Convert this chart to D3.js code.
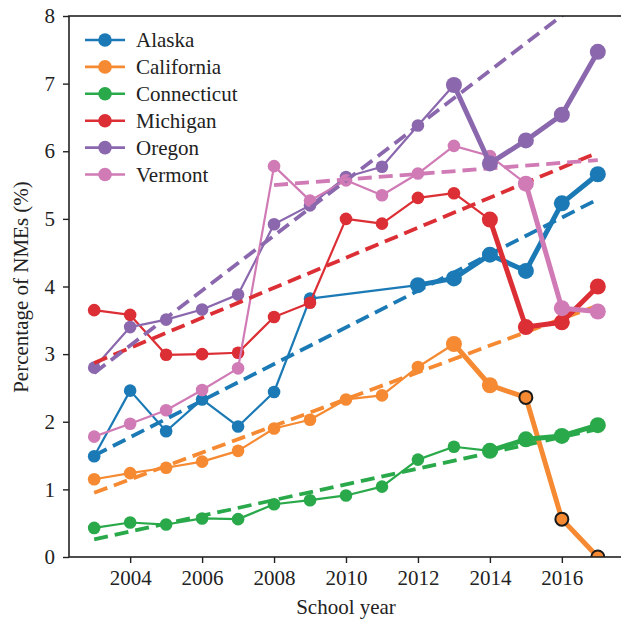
<!DOCTYPE html>
<html>
<head>
<meta charset="utf-8">
<script src="https://cdn.jsdelivr.net/npm/d3@7"></script>
<style>
  html, body { margin: 0; padding: 0; background: #fff; }
  svg { display: block; }
</style>
</head>
<body>
<svg id="chart" width="621" height="623"></svg>
<script>
// School years and per-state non-medical exemption rates (%); null = no report
const years = [2003, 2004, 2005, 2006, 2007, 2008, 2009, 2010, 2011, 2012, 2013, 2014, 2015, 2016, 2017];

const alaska      = [1.49, 2.46, 1.86, 2.33, 1.93, 2.44, 3.82, null, null, 4.02, 4.12, 4.47, 4.23, 5.23, 5.66];
const california  = [1.15, 1.24, 1.32, 1.41, 1.57, 1.90, 2.03, 2.33, 2.39, 2.81, 3.15, 2.54, 2.36, 0.56, 0.00];
const connecticut = [0.43, 0.51, 0.48, 0.57, 0.56, 0.78, 0.84, 0.91, 1.04, 1.44, 1.63, 1.57, 1.74, 1.79, 1.95];
const michigan    = [3.65, 3.58, 2.99, 3.00, 3.02, 3.55, 3.76, 5.00, 4.93, 5.31, 5.38, 4.99, 3.40, 3.47, 4.00];
const oregon      = [2.80, 3.40, 3.51, 3.66, 3.88, 4.92, 5.20, 5.62, 5.77, 6.38, 6.98, 5.82, 6.16, 6.54, 7.47];
const vermont     = [1.78, 1.97, 2.17, 2.47, 2.79, 5.78, 5.27, 5.57, 5.35, 5.67, 6.08, 5.93, 5.52, 3.68, 3.63];

const stateNames  = ["Alaska", "California", "Connecticut", "Michigan", "Oregon", "Vermont"];
const stateColors = ["#1b7ab5", "#f58a32", "#2aa94b", "#dc2f35", "#8b68ae", "#d07bb6"];
// First year drawn with the heavy line style
const heavyFrom   = [2012, 2013, 2014, 2014, 2013, 2015];
// Years whose markers carry a dark outline (California)
const outlinedYears = [2015, 2016, 2017];

// Linear trend endpoints: [startYear, startValue, endYear, endValue]
const trendAlaska      = [2003, 1.50, 2017, 5.29];
const trendCalifornia  = [2003, 0.95, 2017, 3.72];
const trendConnecticut = [2003, 0.26, 2017, 1.89];
const trendMichigan    = [2003, 2.87, 2017, 5.98];
const trendOregon      = [2003, 2.72, 2017, 8.41];
const trendVermont     = [2008, 5.50, 2017, 5.87];

const yTicks = [0, 1, 2, 3, 4, 5, 6, 7, 8];
const xTicks = [2004, 2006, 2008, 2010, 2012, 2014, 2016];

const seriesValues = [alaska, california, connecticut, michigan, oregon, vermont];
const trends = [trendAlaska, trendCalifornia, trendConnecticut, trendMichigan, trendOregon, trendVermont];

const TEXT_COLOR = "#222";
const svg = d3.select("#chart");
const plot = { left: 69, right: 623, top: 16, bottom: 557 };

const x = d3.scaleLinear().domain([2002.3, 2017.7]).range([plot.left, plot.right]);
const y = d3.scaleLinear().domain([0, 8]).range([plot.bottom, plot.top]);

// Serif face set on each text node
function serif(sel, size) {
  return sel
    .attr("font-family", "Liberation Serif")
    .style("font-family", "'Liberation Serif'")
    .attr("font-size", size)
    .style("font-size", size + "px")
    .attr("fill", TEXT_COLOR);
}

svg.append("defs").append("clipPath").attr("id", "plotClip")
  .append("rect")
  .attr("x", plot.left).attr("y", plot.top)
  .attr("width", plot.right - plot.left).attr("height", plot.bottom - plot.top);

const series = stateNames.map((name, i) => ({
  name,
  color: stateColors[i],
  heavyFrom: heavyFrom[i],
  points: years.map((yr, j) => ({ year: yr, value: seriesValues[i][j] })).filter(p => p.value !== null),
  trend: trends[i]
}));

const line = d3.line().x(d => x(d.year)).y(d => y(d.value));

const layer = svg.append("g").attr("clip-path", "url(#plotClip)");
const thinLayer = layer.append("g");
const trendLayer = layer.append("g");
const heavyLayer = layer.append("g");

series.forEach(s => {
  const light = s.points.filter(p => p.year <= s.heavyFrom);
  const heavy = s.points.filter(p => p.year >= s.heavyFrom);

  thinLayer.append("path")
    .datum(light)
    .attr("d", line)
    .attr("fill", "none")
    .attr("stroke", s.color)
    .attr("stroke-width", 2.2)
    .attr("stroke-linejoin", "round");
  thinLayer.selectAll(null)
    .data(light.filter(p => p.year < s.heavyFrom))
    .join("circle")
    .attr("cx", d => x(d.year))
    .attr("cy", d => y(d.value))
    .attr("r", 6.3)
    .attr("fill", s.color);

  const [x0, v0, x1, v1] = s.trend;
  trendLayer.append("line")
    .attr("x1", x(x0)).attr("y1", y(v0))
    .attr("x2", x(x1)).attr("y2", y(v1))
    .attr("stroke", s.color)
    .attr("stroke-width", 3.8)
    .attr("stroke-dasharray", "14,7");

  heavyLayer.append("path")
    .datum(heavy)
    .attr("d", line)
    .attr("fill", "none")
    .attr("stroke", s.color)
    .attr("stroke-width", 5)
    .attr("stroke-linejoin", "round");
  heavyLayer.selectAll(null)
    .data(heavy)
    .join("circle")
    .attr("cx", d => x(d.year))
    .attr("cy", d => y(d.value))
    .attr("r", d => (s.name === "California" && outlinedYears.includes(d.year)) ? 6.5 : 8)
    .attr("fill", s.color)
    .attr("stroke", d => (s.name === "California" && outlinedYears.includes(d.year)) ? "#1a1a1a" : "none")
    .attr("stroke-width", 2);
});

// Axes
const axisColor = "#222";
const xAxis = svg.append("g")
  .attr("transform", `translate(0,${plot.bottom})`)
  .call(d3.axisBottom(x).tickValues(xTicks).tickFormat(d3.format("d")).tickSize(6).tickPadding(7));
const yAxis = svg.append("g")
  .attr("transform", `translate(${plot.left},0)`)
  .call(d3.axisLeft(y).tickValues(yTicks).tickFormat(d3.format("d")).tickSize(6).tickPadding(8));

[xAxis, yAxis].forEach(g => {
  g.attr("font-family", "Liberation Serif").attr("font-size", 21);
  g.select(".domain").remove();
  g.selectAll(".tick line").attr("stroke", axisColor).attr("stroke-width", 1.4);
  serif(g.selectAll(".tick text"), 21);
});

// Frame
svg.append("rect")
  .attr("x", plot.left).attr("y", plot.top)
  .attr("width", plot.right - plot.left).attr("height", plot.bottom - plot.top)
  .attr("fill", "none")
  .attr("stroke", axisColor)
  .attr("stroke-width", 1.6);

// Axis titles
serif(svg.append("text"), 21)
  .attr("x", 346)
  .attr("y", 614)
  .attr("text-anchor", "middle")
  .text("School year");

serif(svg.append("text"), 21)
  .attr("transform", `translate(28,287) rotate(-90)`)
  .attr("text-anchor", "middle")
  .text("Percentage of NMEs (%)");

// Legend
const legend = svg.append("g").attr("transform", "translate(85,40)");
const rowGap = 26.9;
stateNames.forEach((name, i) => {
  const row = legend.append("g").attr("transform", `translate(0,${i * rowGap})`);
  row.append("line")
    .attr("x1", 0).attr("x2", 40)
    .attr("y1", 0).attr("y2", 0)
    .attr("stroke", stateColors[i])
    .attr("stroke-width", 2.6);
  row.append("circle")
    .attr("cx", 20).attr("cy", 0).attr("r", 6.8)
    .attr("fill", stateColors[i]);
  serif(row.append("text"), 21)
    .attr("x", 51).attr("y", 0).attr("dy", "0.35em")
    .text(name);
});
</script>
</body>
</html>
